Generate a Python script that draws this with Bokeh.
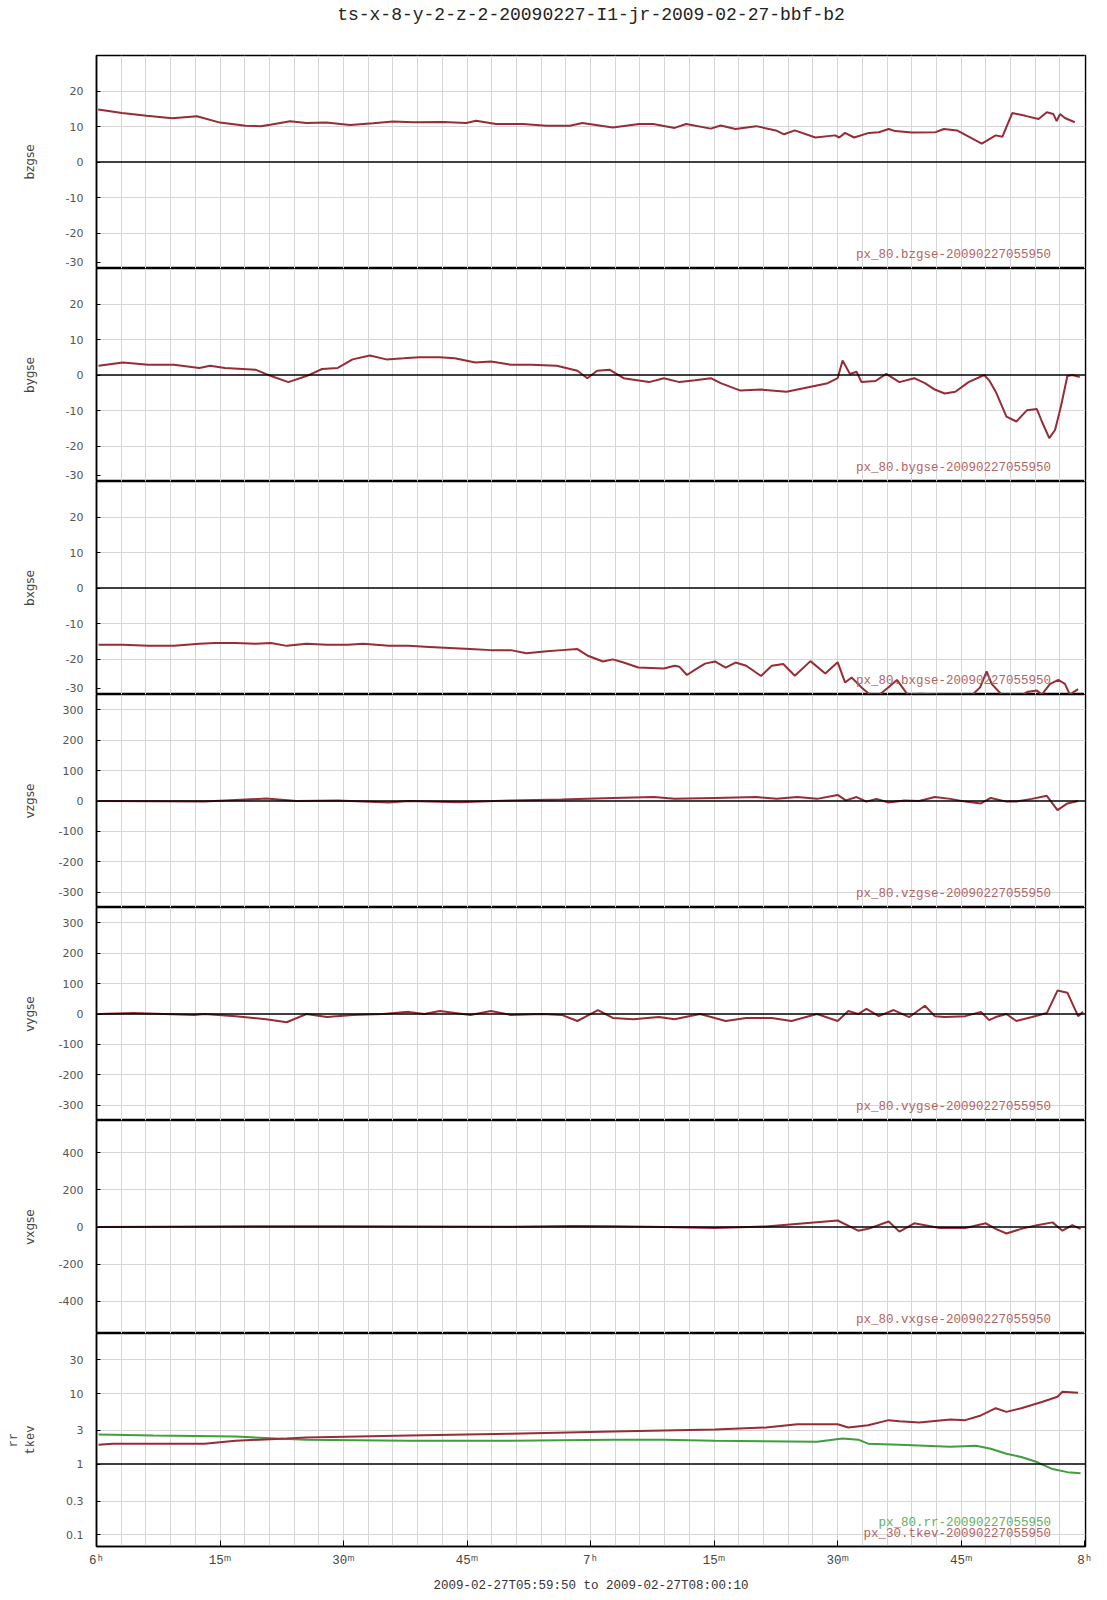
from bokeh.plotting import figure
from bokeh.layouts import column
from bokeh.models import FixedTicker, Span, Label, Range1d, Title
from bokeh.embed import file_html
from bokeh.resources import INLINE

TITLE = "ts-x-8-y-2-z-2-20090227-I1-jr-2009-02-27-bbf-b2"
XLABEL = "2009-02-27T05:59:50 to 2009-02-27T08:00:10"

# time in minutes after 06:00
x_ticks = [0, 15, 30, 45, 60, 75, 90, 105, 120]
x_tick_labels = ["6ʰ", "15ᵐ", "30ᵐ", "45ᵐ", "7ʰ", "15ᵐ", "30ᵐ", "45ᵐ", "8ʰ"]

bz_t = [0.2, 3.1, 6.1, 9.2, 12.2, 15.0, 18.1, 19.9, 21.1, 23.5, 25.5, 27.9, 30.8, 33.6, 36.0, 38.5, 42.1, 44.9,
        46.1, 48.5, 51.8, 54.6, 57.5, 59.0, 62.7, 65.9, 67.6, 70.2, 71.6, 74.6, 75.8, 77.6, 80.1, 82.5, 83.5, 84.8,
        87.3, 89.7, 90.2, 90.9, 92.0, 93.8, 95.0, 96.2, 97.0, 99.0, 101.9, 102.9, 104.5, 107.5, 109.2, 110.0, 111.2,
        112.8, 114.4, 115.4, 116.2, 116.6, 117.0, 117.6, 118.8]
bz_v = [14.8, 13.8, 13.0, 12.3, 12.9, 11.1, 10.2, 10.1, 10.5, 11.5, 11.0, 11.1, 10.4, 10.9, 11.4, 11.2, 11.3, 11.0,
        11.6, 10.7, 10.7, 10.2, 10.2, 11.0, 9.7, 10.7, 10.7, 9.6, 10.7, 9.4, 10.3, 9.3, 10.1, 8.9, 7.8, 8.9,
        6.9, 7.5, 6.9, 8.2, 6.9, 8.2, 8.4, 9.3, 8.7, 8.3, 8.4, 9.3, 8.9, 5.2, 7.5, 7.1, 13.8,
        13.0, 12.1, 14.0, 13.5, 11.5, 13.5, 12.4, 11.2]

by_t = [0.25, 3.2, 6.3, 9.4, 12.5, 13.8, 15.6, 19.3, 21.2, 23.3, 25.5, 27.4, 29.3, 31.1, 33.2, 35.2, 37.3, 39.2,
        41.7, 43.5, 46.0, 47.9, 50.3, 52.8, 55.9, 58.4, 59.6, 60.8, 62.3, 64.0, 67.1, 68.9, 70.8, 72.7, 74.6, 75.8,
        78.2, 80.7, 83.8, 86.3, 88.8, 90.0, 90.6, 91.5, 92.3, 92.9, 94.6, 95.9, 97.5, 99.3, 100.6, 101.8, 103.0,
        104.3, 105.9, 107.8, 108.4, 109.2, 110.5, 111.7, 113.0, 114.2, 114.8, 115.7, 116.4, 117.1, 117.9, 118.5, 119.4]
by_v = [2.6, 3.5, 2.9, 2.9, 2.0, 2.6, 2.0, 1.5, -0.3, -2.0, -0.3, 1.7, 2.0, 4.4, 5.5, 4.4, 4.7, 5.0,
        5.0, 4.7, 3.5, 3.8, 2.9, 2.9, 2.6, 1.2, -0.9, 1.2, 1.5, -0.9, -2.0, -0.9, -2.0, -1.5, -0.9, -2.3,
        -4.4, -4.1, -4.7, -3.5, -2.3, -0.9, 4.1, 0.3, 0.9, -2.0, -1.7, 0.3, -2.0, -0.9, -2.3, -4.1, -5.2,
        -4.7, -2.0, 0.0, -1.5, -4.7, -11.7, -13.1, -9.9, -9.6, -13.1, -17.8, -15.5, -9.0, -0.3, 0.0, -0.6]

bx_t = [0.25, 3.2, 6.3, 9.4, 12.5, 14.4, 16.9, 19.3, 21.2, 23.1, 25.5, 28.0, 30.5, 32.4, 35.5, 37.9, 40.4, 42.9,
        45.4, 47.9, 50.3, 52.2, 54.7, 56.5, 58.4, 59.6, 61.5, 62.7, 64.0, 65.8, 68.9, 70.2, 70.8, 71.7, 72.7, 73.9,
        75.1, 76.4, 77.6, 78.9, 80.7, 82.0, 83.4, 84.8, 86.7, 88.5, 90.0, 90.9, 91.7, 92.9, 93.9, 95.1, 96.0,
        97.2, 98.5, 100.0, 102.4, 106.4, 107.3, 108.1, 108.7, 109.9, 112.5, 113.1, 114.2, 114.8, 115.8, 116.8,
        117.6, 118.2, 119.2]
bx_v = [-16.0, -16.0, -16.3, -16.3, -15.7, -15.5, -15.5, -15.7, -15.5, -16.3, -15.7, -16.0, -16.0, -15.7, -16.3,
        -16.3, -16.6, -16.9, -17.2, -17.5, -17.5, -18.4, -17.8, -17.5, -17.2, -19.0, -20.7, -20.1, -21.0, -22.4,
        -22.7, -21.9, -22.2, -24.5, -23.0, -21.3, -20.7, -22.4, -21.0, -21.9, -24.8, -21.9, -21.4, -24.7, -20.6,
        -24.1, -20.9, -26.6, -25.2, -28.0, -30.0, -30.0, -28.3, -25.9, -30.0, -29.8, -30.0, -30.0, -28.0, -23.5,
        -27.0, -30.0, -30.0, -29.2, -28.9, -30.0, -27.0, -25.9, -27.0, -30.0, -28.5]

vz_t = [0.25, 13.1, 20.6, 24.3, 29.3, 35.5, 37.9, 44.1, 50.3, 56.5, 62.7, 67.7, 70.2, 75.1, 80.1, 82.6, 85.1, 87.5,
        90.0, 91.0, 92.3, 93.5, 94.7, 96.2, 98.1, 99.9, 101.8, 103.7, 105.5, 107.4, 108.6, 110.5, 111.7, 113.6,
        115.4, 116.7, 117.9, 119.2]
vz_v = [0, -2, 8, 0, 2, -5, 0, -4, 2, 5, 10, 13, 7, 10, 13, 7, 13, 7,
        20, 2, 13, -2, 7, -5, 2, 0, 13, 7, -2, -8, 10, -2, -2, 7,
        17, -30, -8, 0]

vy_t = [0.25, 4.5, 8.2, 11.9, 13.1, 16.9, 20.6, 23.1, 25.5, 28.0, 31.1, 34.8, 37.9, 39.8, 41.7, 45.4, 47.9, 50.3,
        54.1, 56.5, 58.4, 60.9, 62.7, 65.2, 68.3, 70.2, 73.3, 76.4, 78.9, 82.0, 84.4, 87.5, 90.0, 91.3, 92.5, 93.5,
        95.0, 96.8, 98.7, 100.6, 101.8, 103.0, 105.5, 107.4, 108.4, 109.2, 110.5, 111.7, 113.6, 115.4, 116.7,
        117.9, 119.2, 119.8]
vy_v = [0, 3, 0, -3, 0, -7, -17, -27, 0, -10, -3, 0, 7, 0, 10, -3, 10, -3,
        0, -3, -23, 13, -13, -17, -10, -17, 0, -23, -13, -13, -23, 0, -23, 10, 0, 17,
        -7, 13, -10, 27, -7, -10, -7, 7, -20, -10, 0, -23, -10, 3, 77,
        70, -7, 7]

vx_t = [0.25, 13.1, 19.3, 29.3, 50.3, 57.8, 62.7, 68.9, 75.1, 81.3, 90.0, 92.5, 93.7, 96.2, 97.5, 99.3, 102.4,
        105.5, 108.0, 109.2, 110.5, 112.3, 114.2, 116.1, 117.3, 118.5, 119.5]
vx_v = [0, 3, 4, 4, 2, 5, 4, 0, -6, 3, 35, -20, -10, 30, -25, 20, -5,
        -5, 20, -10, -35, -10, 10, 25, -20, 10, -10]

rr_t = [0.25, 6.9, 16.9, 21.8, 25.5, 37.9, 50.3, 62.7, 68.9, 75.1, 87.5, 90.6, 92.5, 93.7, 97.5, 103.7, 106.8,
        108.6, 110.5, 112.3, 114.2, 116.1, 117.9, 119.5]
rr_v = [2.63, 2.54, 2.46, 2.3, 2.22, 2.15, 2.15, 2.22, 2.22, 2.15, 2.08, 2.3, 2.22, 1.95, 1.88, 1.76, 1.82,
        1.65, 1.4, 1.26, 1.07, 0.85, 0.77, 0.74]

tkev_t = [0.25, 2.0, 13.1, 16.9, 23.1, 25.5, 37.9, 50.3, 62.7, 75.1, 81.3, 85.1, 90.0, 91.3, 93.7, 96.2, 97.5,
          99.9, 103.7, 105.5, 107.4, 109.2, 110.5, 112.3, 114.8, 116.7, 117.3, 119.2]
tkev_v = [1.88, 1.95, 1.95, 2.15, 2.3, 2.38, 2.54, 2.7, 2.9, 3.1, 3.3, 3.67, 3.67, 3.3, 3.55, 4.2, 4.06,
          3.9, 4.3, 4.2, 4.9, 6.2, 5.5, 6.2, 7.6, 9.0, 10.6, 10.3]

b_ticks = [-30, -20, -10, 0, 10, 20]
b_tick_labels = ["-30", "-20", "-10", "0", "10", "20"]
v_ticks = [-300, -200, -100, 0, 100, 200, 300]
v_tick_labels = ["-300", "-200", "-100", "0", "100", "200", "300"]
vx_ticks = [-400, -200, 0, 200, 400]
vx_tick_labels = ["-400", "-200", "0", "200", "400"]
log_ticks = [0.1, 0.3, 1, 3, 10, 30]
log_tick_labels = ["0.1", "0.3", "1", "3", "10", "30"]

RED = "#962c36"
GREEN = "#3f9f3f"
NOTE_RED = "#b46464"
NOTE_GREEN = "#62b062"
GRID = "#d6d6d6"
MONO = "Liberation Mono"
SANS = "DejaVu Sans"

FRAME_W = 989
FRAME_H = 213
# the label of a tick lying on the shared border is lifted just inside its own panel
EDGE_LIFT = 1.7


def make_panel(ticks, labels, yr, ylabel, label_standoff, first=False, last=False, log=False,
               lift_bottom=False):
    kw = {}
    if log:
        kw["y_axis_type"] = "log"
    p = figure(frame_width=FRAME_W, frame_height=FRAME_H, output_backend="svg", toolbar_location=None,
               x_range=Range1d(0, 120.1), y_range=Range1d(*yr),
               x_axis_location="below" if last else None,
               min_border_left=96, min_border_right=14,
               min_border_top=55 if first else 0, min_border_bottom=0, **kw)
    p.background_fill_color = "white"
    p.border_fill_color = "white"
    p.outline_line_color = "black"
    p.outline_line_width = 1.5
    p.xgrid.ticker = FixedTicker(ticks=list(range(0, 121, 3)))
    p.xgrid.grid_line_color = GRID
    grid_ticks = [t for t in ticks if t != (1 if log else 0) and t != yr[0]]
    p.ygrid.ticker = FixedTicker(ticks=grid_ticks)
    p.ygrid.grid_line_color = GRID
    ax = p.yaxis[0]
    axis_ticks = list(ticks)
    if lift_bottom:
        axis_ticks[0] = yr[0] + EDGE_LIFT
    ax.ticker = FixedTicker(ticks=axis_ticks)
    ax.major_label_overrides = {t: s for t, s in zip(axis_ticks, labels)}
    ax.major_label_text_font = SANS
    ax.major_label_text_font_size = "11px"
    ax.major_label_text_color = "#555555"
    ax.major_label_standoff = 13
    ax.major_tick_in = 4
    ax.major_tick_out = 0
    ax.minor_tick_line_color = None
    ax.axis_line_color = "black"
    ax.axis_line_width = 1.5
    ax.axis_label = ylabel
    ax.axis_label_text_font = MONO if log else SANS
    ax.axis_label_text_font_size = "12px"
    ax.axis_label_text_font_style = "normal"
    ax.axis_label_text_color = "#444444"
    ax.axis_label_standoff = label_standoff
    if log:
        ax.axis_label_text_line_height = 1.25
    if first:
        # thin spacer between the frame and the title lifts the title to the top of the page
        p.add_layout(Title(text=" ", text_font_size="1px", standoff=22), "above")
        p.title.text = TITLE
        p.title.align = "center"
        p.title.vertical_align = "top"
        p.title.text_font = MONO
        p.title.text_font_size = "18px"
        p.title.text_font_style = "normal"
        p.title.text_color = "#222222"
        p.title.standoff = 8
    if last:
        xa = p.xaxis[0]
        xa.ticker = FixedTicker(ticks=x_ticks)
        xa.major_label_overrides = {t: s for t, s in zip(x_ticks, x_tick_labels)}
        xa.major_label_text_font = MONO
        xa.major_label_text_font_size = "12.5px"
        xa.major_label_text_color = "#444444"
        xa.major_label_standoff = 7
        xa.major_tick_in = 6
        xa.major_tick_out = 0
        xa.minor_tick_line_color = None
        xa.axis_line_color = "black"
        xa.axis_line_width = 1.5
        xa.axis_label = XLABEL
        xa.axis_label_text_font = MONO
        xa.axis_label_text_font_size = "12.5px"
        xa.axis_label_text_font_style = "normal"
        xa.axis_label_text_color = "#333333"
        xa.axis_label_standoff = 8
    return p


def ref_line(p, loc):
    p.add_layout(Span(location=loc, dimension="width", line_color="black", line_width=1.5))


def note(p, y, text, color):
    p.add_layout(Label(x=115.9, y=y, text=text, text_align="right", text_baseline="middle",
                       text_font=MONO, text_font_size="12.5px", text_color=color))


panels = []

p = make_panel(b_ticks, b_tick_labels, (-30, 30), "bzgse", 26, first=True, lift_bottom=True)
ref_line(p, 0)
p.line(bz_t, bz_v, line_color=RED, line_width=2)
note(p, -26.3, "px_80.bzgse-20090227055950", NOTE_RED)
panels.append(p)

p = make_panel(b_ticks, b_tick_labels, (-30, 30), "bygse", 26, lift_bottom=True)
ref_line(p, 0)
p.line(by_t, by_v, line_color=RED, line_width=2)
note(p, -26.3, "px_80.bygse-20090227055950", NOTE_RED)
panels.append(p)

p = make_panel(b_ticks, b_tick_labels, (-30, 30), "bxgse", 26, lift_bottom=True)
ref_line(p, 0)
p.line(bx_t, bx_v, line_color=RED, line_width=2)
note(p, -26.3, "px_80.bxgse-20090227055950", NOTE_RED)
panels.append(p)

p = make_panel(v_ticks, v_tick_labels, (-350, 350), "vzgse", 19)
ref_line(p, 0)
p.line(vz_t, vz_v, line_color=RED, line_width=2)
note(p, -304, "px_80.vzgse-20090227055950", NOTE_RED)
panels.append(p)

p = make_panel(v_ticks, v_tick_labels, (-350, 350), "vygse", 19)
ref_line(p, 0)
p.line(vy_t, vy_v, line_color=RED, line_width=2)
note(p, -304, "px_80.vygse-20090227055950", NOTE_RED)
panels.append(p)

p = make_panel(vx_ticks, vx_tick_labels, (-575, 575), "vxgse", 19)
ref_line(p, 0)
p.line(vx_t, vx_v, line_color=RED, line_width=2)
note(p, -500, "px_80.vxgse-20090227055950", NOTE_RED)
panels.append(p)

p = make_panel(log_ticks, log_tick_labels, (0.068, 71), "rr\ntkev", 25, last=True, log=True)
ref_line(p, 1)
p.line(rr_t, rr_v, line_color=GREEN, line_width=2)
p.line(tkev_t, tkev_v, line_color=RED, line_width=2)
note(p, 0.147, "px_80.rr-20090227055950", NOTE_GREEN)
note(p, 0.1026, "px_30.tkev-20090227055950", NOTE_RED)
panels.append(p)

layout = column(*panels, spacing=0)
open("out.html", "w").write(file_html(layout, INLINE))
